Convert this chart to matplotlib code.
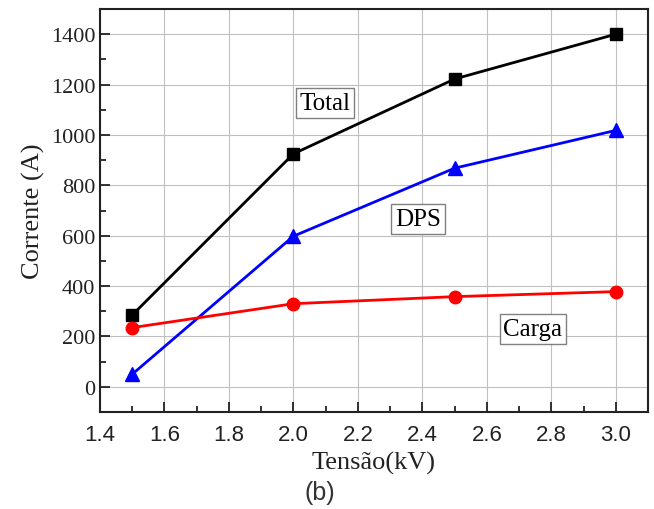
import matplotlib.pyplot as plt
from matplotlib.ticker import MultipleLocator

tensao = [1.5, 2.0, 2.5, 3.0]
total = [285, 925, 1222, 1400]
dps = [50, 598, 868, 1018]
carga = [235, 330, 358, 378]

serif = "Liberation Serif"
sans = "Liberation Sans"

fig = plt.figure(figsize=(6.54, 5.10), dpi=100)
ax = fig.add_axes([100 / 654, 1 - 413 / 510, 548 / 654, 403 / 510])

ax.plot(tensao, total, color="black", lw=2, marker="s", ms=8, zorder=3)
ax.plot(tensao, dps, color="blue", lw=2, marker="^", ms=10, zorder=3)
ax.plot(tensao, carga, color="red", lw=2, marker="o", ms=9, zorder=3)

ax.set_xlim(1.4, 3.1)
ax.set_ylim(-100, 1500)
ax.xaxis.set_major_locator(MultipleLocator(0.2))
ax.xaxis.set_minor_locator(MultipleLocator(0.1))
ax.yaxis.set_major_locator(MultipleLocator(200))
ax.yaxis.set_minor_locator(MultipleLocator(100))
ax.grid(True, which="major", color="#c0c0c0", lw=0.8)
ax.set_axisbelow(True)
ax.tick_params(which="both", direction="in", width=1.3, color="#222222")
ax.tick_params(which="major", length=7)
ax.tick_params(which="minor", length=4)
ax.tick_params(axis="x", pad=9)
for s in ax.spines.values():
    s.set_linewidth(1.5)
    s.set_color("#222222")

ax.set_xticks([1.4, 1.6, 1.8, 2.0, 2.2, 2.4, 2.6, 2.8, 3.0])
ax.set_xticklabels(["1.4", "1.6", "1.8", "2.0", "2.2", "2.4", "2.6", "2.8", "3.0"],
                   family=sans, fontsize=16, color="#222222")
yt = list(range(0, 1401, 200))
ax.set_yticks(yt)
ax.set_yticklabels([str(v) for v in yt], family=serif, fontsize=16, color="#222222")

ax.set_ylabel("Corrente (A)", family=serif, fontsize=19, color="#222222")
ax.set_xlabel("Tensão(kV)", family=serif, fontsize=19, labelpad=4, color="#222222")
fig.text(320 / 654, 1 - 493 / 510, "(b)", family=sans, fontsize=18,
         ha="center", va="center", color="#333333")

box = dict(boxstyle="square,pad=0.15", fc="white", ec="#808080", lw=1)
ax.text(2.098, 1127, "Total", family=serif, fontsize=18, ha="center", va="center", bbox=box)
ax.text(2.386, 667, "DPS", family=serif, fontsize=18, ha="center", va="center", bbox=box)
ax.text(2.743, 230, "Carga", family=serif, fontsize=18, ha="center", va="center", bbox=box)

fig.savefig("out.png", dpi=100)
